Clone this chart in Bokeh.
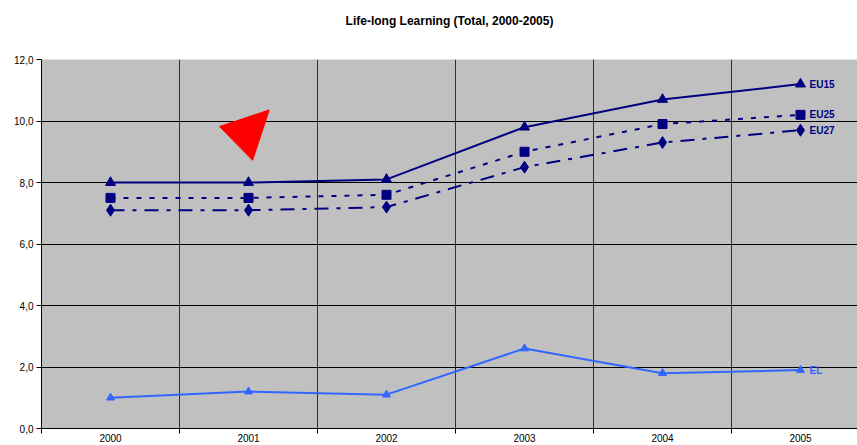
from bokeh.plotting import figure
from bokeh.models import FixedTicker, Range1d, Title
from bokeh.embed import file_html
from bokeh.resources import INLINE
from bokeh.core.properties import value

years = ["2000", "2001", "2002", "2003", "2004", "2005"]
eu15 = [8.0, 8.0, 8.1, 9.8, 10.7, 11.2]
eu25 = [7.5, 7.5, 7.6, 9.0, 9.9, 10.2]
eu27 = [7.1, 7.1, 7.2, 8.5, 9.3, 9.7]
el = [1.0, 1.2, 1.1, 2.6, 1.8, 1.9]
y_ticks = [0, 2, 4, 6, 8, 10, 12]
y_tick_labels = ["0,0", "2,0", "4,0", "6,0", "8,0", "10,0", "12,0"]
pointer_x = [0.79, 1.15, 1.03]
pointer_y = [9.82, 10.36, 8.72]

FONT = "Liberation Sans"
NAVY = "#000080"
LIGHT = "#3366FF"

xs = list(range(len(years)))
bounds = [i + 0.5 for i in range(-1, len(years))]

p = figure(width=857, height=445, output_backend="svg", toolbar_location=None,
           x_range=Range1d(-0.5, 5.413), y_range=Range1d(0, 12),
           min_border_left=41, min_border_right=0, min_border_top=59,
           min_border_bottom=17, background_fill_color="#C0C0C0",
           border_fill_color="white", outline_line_color=None)

p.title = None
spacer = Title(text=" ", text_font=FONT, text_font_size="26px", standoff=0)
p.add_layout(spacer, "above")
main_title = Title(text="Life-long Learning (Total, 2000-2005)", align="center",
                   text_font=FONT, text_font_size="12px", text_font_style="bold",
                   text_color="black", standoff=0, offset=-6)
p.add_layout(main_title, "above")

# x axis
xa = p.xaxis[0]
xa.ticker = FixedTicker(ticks=xs, minor_ticks=bounds)
xa.major_label_overrides = {i: years[i] for i in xs}
xa.major_tick_out = 0
xa.major_tick_in = 0
xa.minor_tick_out = 5
xa.minor_tick_in = 0
xa.minor_tick_line_color = "black"
xa.major_label_standoff = 0
xa.major_label_text_font = FONT
xa.major_label_text_font_size = "10px"
xa.major_label_text_color = "black"
xa.axis_line_color = "black"

# y axis
ya = p.yaxis[0]
ya.ticker = FixedTicker(ticks=y_ticks)
ya.major_label_overrides = {t: l for t, l in zip(y_ticks, y_tick_labels)}
ya.major_tick_out = 5
ya.major_tick_in = 0
ya.major_tick_line_color = "black"
ya.minor_tick_line_color = None
ya.major_label_standoff = 3
ya.major_label_text_font = FONT
ya.major_label_text_font_size = "10px"
ya.major_label_text_color = "black"
ya.axis_line_color = "black"

p.xgrid.ticker = FixedTicker(ticks=bounds[1:-1])
p.xgrid.grid_line_color = "#303030"
p.xgrid.grid_line_width = 1
p.ygrid.ticker = FixedTicker(ticks=y_ticks[1:])
p.ygrid.grid_line_color = "black"
p.ygrid.grid_line_width = 1

# series
p.line(xs, eu15, line_color=NAVY, line_width=2)
p.scatter(xs, eu15, marker="triangle", size=10, color=NAVY)

p.line(xs, eu25, line_color=NAVY, line_width=2, line_dash="5 8")
p.scatter(xs, eu25, marker="square", size=9, color=NAVY)

p.line(xs, eu27, line_color=NAVY, line_width=2, line_dash="14 8 4 8")
p.scatter(xs, eu27, marker="diamond", size=12, color=NAVY)

p.line(xs, el, line_color=LIGHT, line_width=2)
p.scatter(xs, el, marker="triangle", size=8, color=LIGHT)

last = len(xs) - 1
for name, vals, col in [("EU15", eu15, NAVY), ("EU25", eu25, NAVY),
                        ("EU27", eu27, NAVY), ("EL", el, LIGHT)]:
    p.text(x=[xs[last]], y=[vals[last]], text=[name], x_offset=9,
           text_baseline="middle", text_align="left",
           text_font=value(FONT), text_font_style="bold",
           text_font_size="10px", text_color=col)

p.patch(pointer_x, pointer_y, color="red", line_color="red")

open("out.html", "w").write(file_html(p, INLINE))
